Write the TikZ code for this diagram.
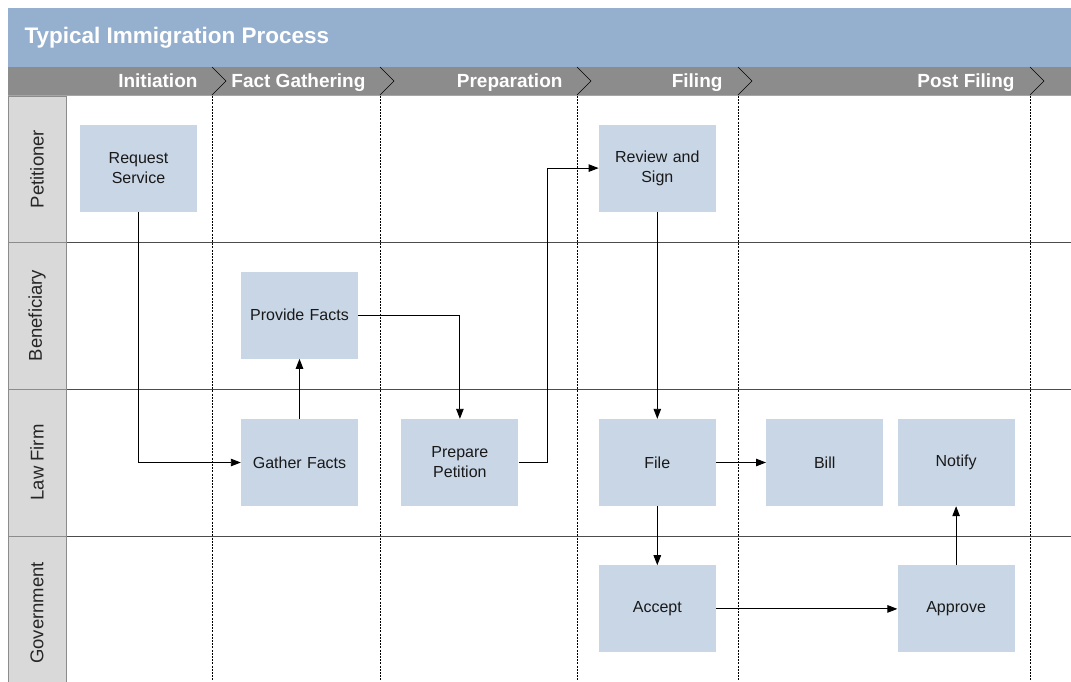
\documentclass[tikz,border=0pt]{standalone}
\usepackage{fontspec}
\setmainfont{Liberation Sans}
\usepackage{xcolor}
\usetikzlibrary{positioning,arrows.meta}

\definecolor{titleblue}{HTML}{95AFCF}
\definecolor{phasegray}{HTML}{8C8C8C}
\definecolor{lanegray}{HTML}{D9D9D9}
\definecolor{taskblue}{HTML}{C9D6E6}

\begin{document}
\begin{tikzpicture}[
  x=1pt, y=-1pt,
  node distance=60pt,
  task/.style={rectangle, fill=taskblue, minimum width=117pt, minimum height=87pt, inner sep=0pt, align=center, text width=112pt, font=\fontsize{16}{20}\selectfont, text=black!90},
  lanecell/.style={rectangle, draw=black!45, fill=lanegray, rotate=90, minimum height=58pt, inner sep=0pt, font=\fontsize{18.5}{22}\selectfont, text=black!85},
  phaselbl/.style={anchor=base east, text=white, font=\fontsize{19}{22}\selectfont\bfseries},
  chevron/.style={black, line width=0.6pt},
  lanesep/.style={black!70, line width=0.8pt},
  phasedash/.style={black, line width=0.6pt, dash pattern=on 2pt off 1.2pt},
  arrow/.style={-{Triangle[length=10pt,width=7.5pt]}, line width=0.9pt}
]
\useasboundingbox (0,0) rectangle (1071,681);

% Title and phase bars
\fill[titleblue] (8,8) rectangle (1071,67);
\fill[phasegray] (8,67) rectangle (1071,95);
\draw[black!35, line width=0.8pt] (8,95.5) -- (1071,95.5);
\node[anchor=base west, text=white, font=\fontsize{22.5}{26}\selectfont\bfseries] (ttl) at (21,43) {Typical Immigration Process};

% Phase boundaries (dashed guides + chevrons)
\draw[phasedash] (212,96) -- (212,681);
\draw[phasedash] (380,96) -- (380,681);
\draw[phasedash] (577,96) -- (577,681);
\draw[phasedash] (738,96) -- (738,681);
\draw[phasedash] (1030,96) -- (1030,681);
\draw[chevron] (212,67) -- (226,81) -- (212,95);
\draw[chevron] (380,67) -- (394,81) -- (380,95);
\draw[chevron] (577,67) -- (591,81) -- (577,95);
\draw[chevron] (738,67) -- (752,81) -- (738,95);
\draw[chevron] (1030,67) -- (1044,81) -- (1030,95);

% Phase headers
\node[phaselbl] (ini)  at (201,87)  {Initiation};
\node[phaselbl] (fact) at (369,87)  {Fact Gathering};
\node[phaselbl] (prep) at (566,87)  {Preparation};
\node[phaselbl] (fil)  at (726,87)  {Filing};
\node[phaselbl] (post) at (1018,87) {Post Filing};

% Lane separators
\draw[lanesep] (8,242) -- (1071,242);
\draw[lanesep] (8,389) -- (1071,389);
\draw[lanesep] (8,536) -- (1071,536);

% Lanes (left column)
\node[lanecell, minimum width=146pt] (pet) at (37,169)   {Petitioner};
\node[lanecell, minimum width=147pt] (ben) at (37,315.5) {Beneficiary};
\node[lanecell, minimum width=147pt] (law) at (37,462.5) {Law Firm};
\node[lanecell, minimum width=154pt] (gov) at (37,613)   {Government};

% Tasks
\node[task] (rs) at (138.5,168.5) {Request\\Service};
\node[task] (gf) at (299.5,462.5) {Gather Facts};
\node[task, above=of gf]         (pf) {Provide Facts};
\node[task, right=43pt of gf]    (pp) {Prepare\\Petition};
\node[task, right=80pt of pp]    (fi) {File};
\node[task, above=207pt of fi]   (rv) {Review and\\Sign};
\node[task, right=50pt of fi]    (bi) {Bill};
\node[task, right=14pt of bi]    (no) {Notify};
\node[task, below=59pt of fi]    (ac) {Accept};
\node[task, below=59pt of no]    (ap) {Approve};

% Flow
\draw[arrow] (rs.south) |- (gf.west);
\draw[arrow] (gf.north) -- (pf.south);
\draw[arrow] (pf.east) -| (pp.north);
\draw[arrow] (pp.east) -- ++(29,0) |- (rv.west);
\draw[arrow] (rv.south) -- (fi.north);
\draw[arrow] (fi.east) -- (bi.west);
\draw[arrow] (fi.south) -- (ac.north);
\draw[arrow] (ac.east) -- (ap.west);
\draw[arrow] (ap.north) -- (no.south);

\end{tikzpicture}
\end{document}
